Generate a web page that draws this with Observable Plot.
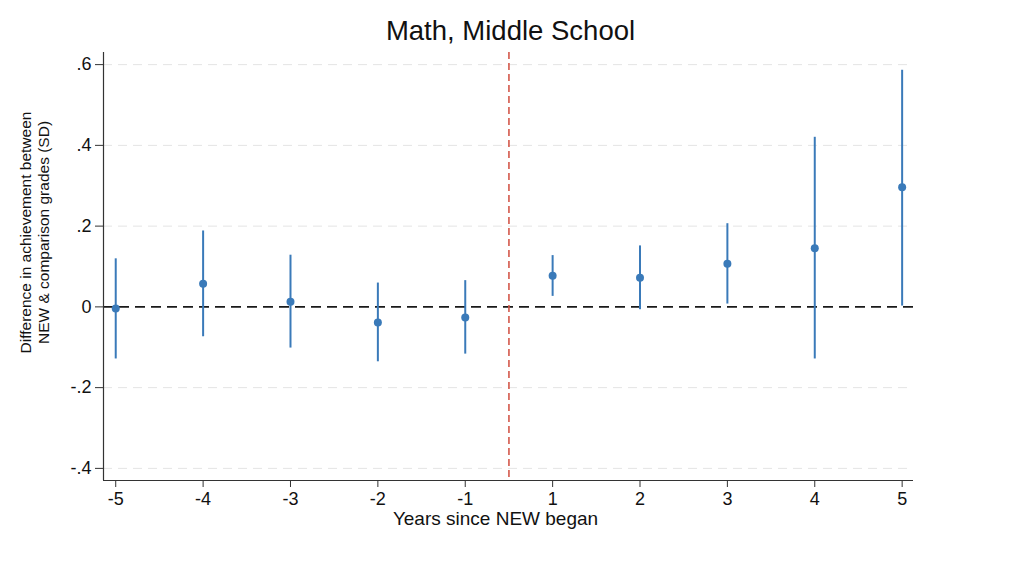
<!DOCTYPE html>
<html>
<head>
<meta charset="utf-8">
<script src="https://cdn.jsdelivr.net/npm/d3@7"></script>
<script src="https://cdn.jsdelivr.net/npm/@observablehq/plot@0.6"></script>
<style>
  body { margin: 0; background: #fff; }
  #chart svg { display: block; }
</style>
</head>
<body>
<div id="chart"></div>
<script>
// ---- data ----
const years    = [-5, -4, -3, -2, -1, 1, 2, 3, 4, 5];
const estimate = [-0.004, 0.057, 0.013, -0.039, -0.026, 0.077, 0.072, 0.107, 0.145, 0.296];
const ciLow    = [-0.129, -0.074, -0.102, -0.136, -0.117, 0.026, -0.007, 0.007, -0.129, 0.002];
const ciHigh   = [0.119, 0.188, 0.128, 0.059, 0.065, 0.127, 0.151, 0.206, 0.420, 0.586];
const yTicks   = [-0.4, -0.2, 0, 0.2, 0.4, 0.6];
const yDomain  = [-0.43, 0.63];

const titleText = "Math, Middle School";
const xLabel = "Years since NEW began";
const yLabel = "Difference in achievement between\nNEW & comparison grades (SD)";

const data = years.map((yr, i) => ({i, yr, est: estimate[i], lo: ciLow[i], hi: ciHigh[i]}));
const idx = data.map(d => d.i);
// event line sits halfway between the last pre-period and first post-period year
const eventPos = (years.indexOf(-1) + years.indexOf(1)) / 2;
const xDomain = [-0.14, years.length - 1 + 0.13];

const blue = "#3a7ab9";
const fmtY = d => d === 0 ? "0" : (d < 0 ? "-" : "") + "." + Math.round(Math.abs(d) * 10);

const chart = Plot.plot({
  width: 1024,
  height: 574,
  marginTop: 52,
  marginBottom: 94,
  marginLeft: 103,
  marginRight: 111,
  style: {fontFamily: "'Liberation Sans', Arial, sans-serif", fontSize: "18px", color: "#111", background: "#fff"},
  x: {type: "linear", domain: xDomain},
  y: {domain: yDomain},
  marks: [
    Plot.ruleY(yTicks.filter(t => t !== 0), {stroke: "#e4e4e4", strokeWidth: 1, strokeDasharray: "9,6"}),
    Plot.ruleY([0], {stroke: "#1a1a1a", strokeWidth: 1.6, strokeDasharray: "10,6"}),
    Plot.ruleX([eventPos], {stroke: "#d4584a", strokeWidth: 1.6, strokeDasharray: "7,4"}),
    Plot.ruleX(data, {x: "i", y1: "lo", y2: "hi", stroke: blue, strokeWidth: 2}),
    Plot.dot(data, {x: "i", y: "est", r: 4, fill: blue, stroke: "none"}),
    Plot.ruleY([yDomain[0]], {stroke: "#333", strokeWidth: 1.2}),
    Plot.ruleX([xDomain[0]], {stroke: "#333", strokeWidth: 1.2}),
    Plot.axisX({ticks: idx, tickFormat: i => String(years[i]), tickSize: 7, tickPadding: 5, fontSize: 18, label: null, stroke: "#333"}),
    Plot.axisY({ticks: yTicks, tickFormat: fmtY, tickSize: 8, tickPadding: 4, fontSize: 18, label: null, stroke: "#333"}),
    Plot.text([titleText], {frameAnchor: "top", lineAnchor: "middle", dx: 2, dy: -21, fontSize: 27.5, fill: "#111"}),
    Plot.text([xLabel], {frameAnchor: "bottom", lineAnchor: "middle", textAnchor: "middle", dx: -13, dy: 38, fontSize: 19, fill: "#111"}),
    Plot.text([yLabel], {frameAnchor: "left", textAnchor: "middle", lineAnchor: "middle", dx: -69, dy: -34, rotate: -90, fontSize: 15.5, lineHeight: 1.18, fill: "#111"})
  ]
});
// enlarge the axis tick labels to match the reference
d3.select(chart).selectAll('g[aria-label$="tick label"]').each(function () {
  d3.select(this).attr("font-size", 18).style("font-size", "18px");
  d3.select(this).selectAll("text").attr("font-size", 18).style("font-size", "18px");
});
document.getElementById("chart").appendChild(chart);
</script>
</body>
</html>
